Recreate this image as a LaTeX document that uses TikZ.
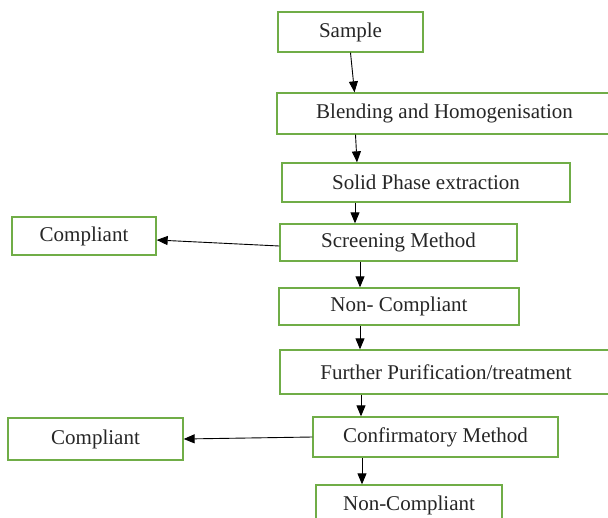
\documentclass[tikz,border=0pt]{standalone}
\usepackage{fontspec}
\setmainfont{Liberation Serif}
\usepackage{xcolor}
\usetikzlibrary{positioning,arrows.meta}
\definecolor{boxgreen}{RGB}{112,173,71}

\begin{document}
\begin{tikzpicture}[x=1pt, y=-1pt, >={Triangle[length=11pt,width=9pt]}, line width=0.9pt,
    main/.style = {draw=boxgreen, line width=1.3pt, inner sep=0pt, fill=white,
      font=\fontsize{21}{24}\selectfont, text=black!85}]
      \useasboundingbox (0,0) rectangle (608,517);
      \node[main, minimum width=145pt, minimum height=40pt] (0) at (350.5,32) {Sample};
      \node[main, minimum width=335pt, minimum height=41pt] (1) at (444.5,113.5) {Blending and Homogenisation};
      \node[main, minimum width=288pt, minimum height=39pt] (2) at (426,182.5) {Solid Phase extraction};
      \node[main, minimum width=237pt, minimum height=37pt] (3) at (398.5,242.5) {Screening Method};
      \node[main, minimum width=144pt, minimum height=38pt] (4) at (84,236) {Compliant};
      \node[main, minimum width=240pt, minimum height=37pt] (5) at (399,306.5) {Non- Compliant};
      \node[main, minimum width=332pt, minimum height=44pt] (6) at (446,372) {Further Purification/treatment};
      \node[main, minimum width=245pt, minimum height=40pt] (7) at (435.5,437) {Confirmatory Method};
      \node[main, minimum width=175pt, minimum height=42pt] (8) at (95.5,439) {Compliant};
      %% the last box runs off the page
      \node[main, minimum width=186pt, minimum height=40pt] (9) at (409,505) {Non-Compliant};
      \draw[->] (0.south) -- ([xshift=-90pt]1.north);
      \draw[->] ([xshift=-89pt]1.south) -- ([xshift=-69pt]2.north);
      \draw[->] ([xshift=-71pt]2.south) -- ([xshift=-43.5pt]3.north);
      \draw[->] ([xshift=-38.5pt]3.south) -- ([xshift=-39pt]5.north);
      \draw[->] ([xshift=-39pt]5.south) -- ([xshift=-86pt]6.north);
      \draw[->] ([xshift=-85pt]6.south) -- ([xshift=-74.5pt]7.north);
      \draw[->] ([xshift=-73.5pt]7.south) -- ([xshift=-47pt]9.north);
      \draw[->] ([yshift=-3.5pt]3.west) -- ([yshift=-4pt]4.east);
      \draw[->] (7.west) -- (8.east);
\end{tikzpicture}
\end{document}
